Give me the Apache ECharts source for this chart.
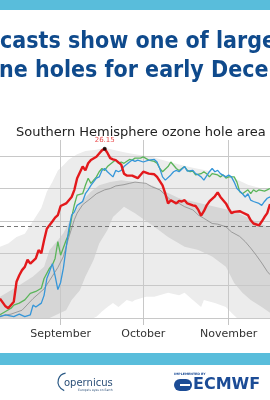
<!DOCTYPE html>
<html>
<head>
<meta charset="utf-8">
<script src="https://cdn.jsdelivr.net/npm/echarts@6/dist/echarts.min.js"></script>
<style>
  html, body { margin: 0; padding: 0; background: #fff; }
  #chart { width: 270px; height: 400px; }
</style>
</head>
<body>
<div id="chart"></div>
<script>
// x = days since 10 August, y = ozone hole area (million km²)
const startDate = Date.UTC(2023, 7, 10);
const dayCount = 99;
const monthNames = ['January', 'February', 'March', 'April', 'May', 'June', 'July',
    'August', 'September', 'October', 'November', 'December'];

const peakDay = 38;
const peakValue = 26.15;
const refLevel = 14.1;

const red = [[0,3.0],[2,1.8],[3,1.5],[5,2.5],[6,5.6],[7,6.6],[8,7.4],[9,7.9],[10,9.0],[11,8.4],
    [13,9.2],[14,10.5],[15,10.0],[16,12.0],[17,13.8],[19,14.9],[20,15.5],[21,15.9],[22,17.3],
    [24,17.7],[25,18.2],[26,18.7],[27,19.8],[28,21.6],[30,23.4],[31,22.8],[32,23.9],[33,24.4],
    [35,24.9],[36,25.4],[37,25.9],[38,26.15],[39,25.5],[40,24.7],[41,24.5],[42,24.4],[44,23.7],
    [45,22.3],[46,22.0],[48,22.0],[49,21.8],[50,21.6],[52,22.6],[54,22.3],[56,22.2],[57,21.8],
    [59,20.5],[60,19.2],[61,17.7],[62,18.2],[64,17.7],[65,18.1],[66,18.0],[67,18.2],[68,17.7],
    [70,17.4],[71,17.3],[72,16.7],[73,15.8],[74,16.5],[75,17.4],[76,18.0],[77,18.4],[78,18.8],
    [79,19.4],[80,18.7],[82,17.7],[83,16.9],[84,16.2],[85,16.4],[87,16.5],[88,16.3],[90,15.9],
    [91,15.1],[92,14.6],[94,14.3],[95,14.9],[96,15.6],[97,16.2],[98,17.6]];

const green = [[0,0.5],[2,1.0],[4,1.5],[5,2.0],[7,2.3],[9,2.8],[11,3.8],[13,4.1],[15,4.6],[16,6.1],
    [18,7.7],[19,8.2],[20,9.2],[21,11.8],[22,9.7],[24,12.0],[25,13.0],[26,15.5],[27,17.5],[28,19.0],
    [30,19.2],[31,20.5],[32,21.6],[33,20.8],[35,21.8],[36,22.6],[37,23.1],[38,22.8],[39,23.4],
    [41,24.1],[42,24.4],[43,23.9],[44,24.1],[45,23.9],[47,24.5],[48,24.4],[49,24.7],[51,24.7],
    [52,24.9],[54,24.4],[56,24.2],[57,23.9],[58,23.1],[59,22.6],[61,23.4],[62,24.1],[63,23.6],
    [64,23.1],[65,22.8],[67,23.4],[68,22.8],[69,22.6],[70,22.7],[71,22.1],[73,22.3],[74,22.6],
    [75,22.3],[76,21.8],[77,22.3],[79,22.1],[80,21.8],[81,22.1],[82,21.6],[83,21.8],[85,21.8],
    [86,21.0],[87,19.5],[88,19.2],[90,19.8],[91,19.2],[92,19.8],[93,19.5],[94,19.8],[96,19.6],
    [97,19.8],[98,20.0]];

const blue = [[0,0.2],[2,0.5],[5,0.2],[7,0.6],[9,0.2],[11,0.5],[12,2.0],[13,1.7],[15,2.3],[16,3.5],
    [17,6.1],[18,7.2],[19,8.4],[20,6.5],[21,4.4],[22,5.5],[23,7.7],[24,10.8],[25,13.8],[26,15.9],
    [27,16.4],[28,17.4],[30,18.0],[31,19.2],[32,19.8],[33,20.5],[35,21.6],[36,21.8],[37,22.8],
    [38,23.1],[39,22.6],[41,21.8],[42,22.8],[43,22.6],[44,22.8],[45,23.4],[47,24.1],[48,24.4],
    [49,24.2],[50,24.4],[52,24.1],[54,24.4],[56,24.5],[57,24.1],[58,23.1],[59,21.8],[60,21.3],
    [62,22.1],[63,22.6],[64,22.8],[65,22.6],[67,23.4],[68,22.7],[70,22.8],[71,22.3],[72,22.1],
    [73,21.8],[74,21.3],[76,22.6],[77,23.1],[78,22.6],[79,22.8],[80,22.3],[82,21.8],[83,22.1],
    [84,21.8],[85,21.0],[86,20.0],[88,19.2],[89,18.7],[90,19.2],[91,18.2],[92,18.0],[94,17.7],
    [95,17.4],[96,18.0],[97,18.5],[98,18.7]];

const mean = [[0,0.3],[4,0.6],[8,1.2],[12,3.0],[16,4.5],[18,5.8],[21,7.8],[23,9.5],[25,12.5],
    [27,15.2],[28,16.2],[30,17.5],[33,18.5],[35,19.2],[38,19.8],[40,20.0],[42,20.4],[45,20.6],
    [47,20.8],[49,21.0],[53,20.8],[55,20.3],[58,19.8],[60,19.0],[62,18.2],[65,17.7],[67,17.2],
    [70,16.7],[72,15.9],[74,15.4],[77,14.6],[79,14.5],[82,14.1],[84,13.3],[87,12.6],[89,11.8],
    [91,10.8],[93,9.7],[95,8.5],[97,7.2],[98,6.7]];

// range of earlier years (outer) and inner percentile band
const outerHigh = [[0,11.0],[3,11.5],[6,12.5],[9,13.0],[12,15.0],[15,17.0],[17,19.5],[19,21.0],
    [21,22.8],[23,23.6],[25,24.5],[28,25.3],[31,25.8],[35,26.0],[38,26.3],[41,26.0],[45,25.6],
    [49,25.3],[55,24.9],[60,24.3],[65,23.7],[70,23.2],[75,22.8],[80,22.3],[85,21.6],[90,20.6],
    [95,20.0],[98,19.8]];
const innerHigh = [[0,3.3],[6,4.8],[12,6.4],[16,7.9],[18,10.5],[21,12.0],[23,13.1],[26,15.6],
    [30,18.2],[33,19.5],[36,20.5],[40,21.0],[44,21.3],[49,21.0],[55,20.5],[60,19.5],[65,18.5],
    [70,18.0],[75,17.5],[80,17.0],[85,16.5],[90,15.5],[95,14.5],[98,14.0]];
const innerLow = [[0,0],[18,0],[24,1.2],[26,2.8],[29,4.3],[31,6.4],[34,9.0],[36,11.5],[39,13.6],
    [41,15.6],[45,17.2],[49,16.2],[56,14.1],[61,12.5],[67,11.0],[72,10.5],[77,9.5],[82,7.9],
    [85,5.4],[88,3.9],[91,2.8],[95,1.7],[98,0.8]];
const outerLow = [[0,0],[34,0],[35,0.2],[37,1.0],[39,1.7],[41,2.3],[43,1.7],[46,2.8],[48,2.5],
    [49,2.8],[53,3.3],[56,3.3],[61,3.9],[65,3.5],[67,3.9],[70,2.8],[73,1.7],[74,2.8],[78,2.3],
    [82,1.7],[84,0.8],[86,0],[98,0]];

const days = [];
for (let i = 0; i < dayCount; i++) {
    days.push(new Date(startDate + i * 86400000).toISOString().slice(0, 10));
}
const isMonthStart = (idx, value) => value.slice(8) === '01';

const myChart = echarts.init(document.getElementById('chart'));

function band(data, color) {
    return {
        type: 'line', data: data, symbol: 'none', silent: true, z: 1,
        lineStyle: { width: 0 },
        areaStyle: { color: color, opacity: 1 }
    };
}
function trace(data, color, width) {
    return {
        type: 'line', data: data, symbol: 'none', z: 4,
        lineStyle: { color: color, width: width }
    };
}

const option = {
    animation: false,
    title: {
        text: 'Southern Hemisphere ozone hole area',
        left: 11, top: 121,
        textStyle: { fontFamily: 'DejaVu Sans', fontSize: 13, fontWeight: 'normal', color: '#222' }
    },
    grid: { left: 0, right: 0, top: 140, bottom: 82 },
    xAxis: {
        type: 'category', data: days, boundaryGap: false, z: 2,
        axisLine: { show: false },
        axisTick: { show: true, interval: isMonthStart, length: 7, lineStyle: { color: '#c4c4c4' } },
        axisLabel: {
            interval: isMonthStart, margin: 11,
            formatter: v => monthNames[parseInt(v.slice(5, 7), 10) - 1],
            fontFamily: 'DejaVu Sans', fontSize: 11, color: '#333'
        },
        splitLine: { show: true, interval: isMonthStart, lineStyle: { color: '#c8c8c8', width: 1 } }
    },
    yAxis: {
        type: 'value', min: 0, max: 27.5, interval: 5, z: 2,
        axisLine: { show: false }, axisTick: { show: false }, axisLabel: { show: false },
        splitLine: { show: true, showMaxLine: false, lineStyle: { color: '#c8c8c8', width: 1 } }
    },
    series: [
        band(outerHigh, '#ececec'),
        band(innerHigh, '#d6d6d6'),
        band(innerLow, '#ececec'),
        band(outerLow, '#ffffff'),
        Object.assign(trace(mean, '#8a8a8a', 0.8), {
            markLine: {
                silent: true, symbol: 'none', label: { show: false },
                lineStyle: { color: '#777', type: [4, 3], width: 1 },
                data: [{ yAxis: refLevel }]
            }
        }),
        trace(green, '#5ab55a', 1.3),
        trace(blue, '#3596d9', 1.3),
        trace(red, '#e3191c', 2.4),
        {
            type: 'scatter', z: 6, symbolSize: 4,
            itemStyle: { color: '#000' },
            data: [[peakDay, peakValue]],
            label: {
                show: true, position: 'top', distance: 3,
                formatter: () => peakValue.toFixed(2),
                fontFamily: 'DejaVu Sans', fontSize: 7, color: '#e3191c'
            }
        }
    ],
    graphic: [
        { type: 'rect', shape: { x: 0, y: 0, width: 270, height: 10 }, style: { fill: '#59bddb' } },
        { type: 'text', x: 0, y: 42, scaleX: 0.88, style: {
            text: 'casts show one of large', fontFamily: 'DejaVu Sans', fontWeight: 'bold',
            fontSize: 23.5, fill: '#0f4a8c', verticalAlign: 'middle' } },
        { type: 'text', x: -1, y: 71, scaleX: 0.88, style: {
            text: 'ne holes for early Dece', fontFamily: 'DejaVu Sans', fontWeight: 'bold',
            fontSize: 23.5, fill: '#0f4a8c', verticalAlign: 'middle' } },
        { type: 'rect', shape: { x: 0, y: 353, width: 270, height: 12 }, style: { fill: '#59bddb' } },
        // Copernicus logo
        { type: 'arc', shape: { cx: 67, cy: 382, r: 9, startAngle: Math.PI * 0.6, endAngle: Math.PI * 1.45 },
            style: { stroke: '#2b5a86', lineWidth: 1.2, fill: null } },
        { type: 'text', x: 64, y: 383, style: {
            text: 'opernicus', fontFamily: 'DejaVu Sans', fontSize: 10, fill: '#2b4f78', verticalAlign: 'middle' } },
        { type: 'text', x: 78, y: 390, style: {
            text: "Europe's eyes on Earth", fontFamily: 'DejaVu Sans', fontSize: 3, fill: '#2b4f78', verticalAlign: 'middle' } },
        // ECMWF logo
        { type: 'text', x: 174, y: 374, style: {
            text: 'IMPLEMENTED BY', fontFamily: 'DejaVu Sans', fontWeight: 'bold', fontSize: 3.2, fill: '#1c4c96', verticalAlign: 'middle' } },
        { type: 'rect', shape: { x: 174, y: 379, width: 18, height: 12, r: 6 }, style: { fill: '#1c4c96' } },
        { type: 'rect', shape: { x: 180, y: 384, width: 10, height: 2 }, style: { fill: '#fff' } },
        { type: 'text', x: 193, y: 385, style: {
            text: 'ECMWF', fontFamily: 'DejaVu Sans', fontWeight: 'bold', fontSize: 16, fill: '#1c4c96', verticalAlign: 'middle' } }
    ]
};
myChart.setOption(option);
</script>
</body>
</html>
